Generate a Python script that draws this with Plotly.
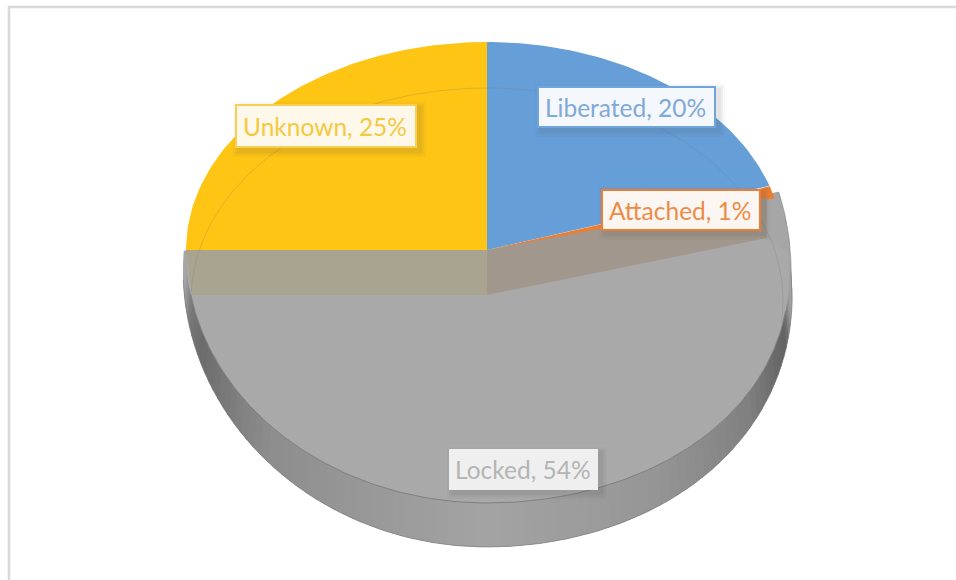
import numpy as np
import plotly.graph_objects as go

categories = ["Liberated", "Attached", "Locked", "Unknown"]
shares = [20, 1, 54, 25]
label_text = ["Liberated, 20%", "Attached, 1%", "Locked, 54%", "Unknown, 25%"]

fills = {"Liberated": "#669fd8", "Attached": "#ed7d31", "Locked": "#a9a9a9", "Unknown": "#fec515"}
text_cols = {"Liberated": "#7fa9d8", "Attached": "#ee8b47", "Locked": "#b4b4b4", "Unknown": "#f5c93f"}
edge_cols = {"Liberated": "#6fa5da", "Attached": "#ed7d31", "Locked": "#efefef", "Unknown": "#f8cf55"}
box_fill = {"Liberated": "#f4f7fb", "Attached": "#fbf6f2", "Locked": "#efefef", "Unknown": "#fdf8ea"}
boxes = {"Liberated": (538, 87, 715, 127), "Attached": (602, 190, 760, 230),
         "Locked": (450, 450, 597, 489), "Unknown": (236, 105, 416, 147)}

cum = np.cumsum([0] + shares) * 3.6
span = {c: (cum[i], cum[i + 1]) for i, c in enumerate(categories)}
CX, CY, RX_L, RX_R, RY_BACK, RY_FRONT = 487, 250, 301, 297, 208, 253
OCY, ORX, ORY = 270, 304, 277
BULGE = 14


def bulge(t):
    t = np.asarray(t, dtype=float) % 360
    return np.where((t > 90) & (t < 180), BULGE * np.sin(np.radians(2 * (t - 90))), 0.0)


def top(t):
    r = np.radians(np.asarray(t, dtype=float))
    ry = np.where(np.cos(r) > 0, RY_BACK, RY_FRONT)
    rx = np.where((np.sin(r) > 0) & (np.cos(r) > 0), RX_R, RX_L)
    return CX + rx * np.sin(r) + bulge(t), CY - ry * np.cos(r)


def outer(t):
    r = np.radians(np.asarray(t, dtype=float))
    return CX + ORX * np.sin(r) + bulge(t), OCY - ORY * np.cos(r)


fig = go.Figure()


def poly(x, y, fill, line=None, width=0.8, name=""):
    fig.add_trace(go.Scatter(x=list(x), y=list(y), mode="lines", fill="toself", fillcolor=fill,
                             line=dict(color=line or "rgba(0,0,0,0)", width=width if line else 0),
                             hoverinfo="skip", name=name, showlegend=False))


def curve(x, y, color, width=1):
    fig.add_trace(go.Scatter(x=list(x), y=list(y), mode="lines", line=dict(color=color, width=width),
                             hoverinfo="skip", showlegend=False))


# frame
curve([9, 9, 956], [580, 7, 7], "#d9d9d9", 2.5)

# base silhouette of the lower part
lock_a, lock_b = span["Locked"]
ta = np.linspace(lock_a - 2, lock_b + 4, 200)
ox, oy = outer(ta)
poly(np.r_[CX, ox], np.r_[CY, oy], "#a6a6a6", name="Locked")

# shaded wall of the disc
stops_t = [90, 100, 106, 112, 125, 150, 180, 225, 250, 258, 266, 274]
stops_g = [166, 160, 100, 105, 128, 150, 164, 142, 108, 120, 166, 166]
edges = np.linspace(90, 270, 91)
for a, b in zip(edges[:-1], edges[1:]):
    tt = np.linspace(a, b + 0.6, 4)
    ux, uy = top(tt)
    lx, ly = outer(tt)
    g = int(np.interp((a + b) / 2, stops_t, stops_g))
    poly(np.r_[ux, lx[::-1]], np.r_[uy, ly[::-1]], f"rgb({g},{g},{g})")

# back wedges
for c in ["Unknown", "Liberated", "Attached"]:
    a, b = span[c]
    tt = np.linspace(a, b, 80)
    x, y = top(tt)
    poly(np.r_[CX, x, CX], np.r_[CY, y, CY], fills[c], name=c)

# front face of the largest slice
tt = np.linspace(90, 270, 200)
x, y = top(tt)
poly(np.r_[CX, 767, x, 192], np.r_[295, 238, y, 295], fills["Locked"], name="Locked")
tt2 = np.linspace(104, 260, 200)
x, y = top(tt2)
curve(x, y, "#7f7f7f", 1)

# bands seen through the raised face
poly([186, CX, CX, 192], [CY, CY, 295, 295], "#a8a48f")
ax, ay = top(lock_a)
poly([CX, 767, 767, CX], [CY, ay + 0.1 * (767 - ax), 238, 295], "#a2978c")

# faint rear outline
tt3 = np.linspace(-88, 96, 200)
curve(487 + 296 * np.sin(np.radians(tt3)), 300 - 212 * np.cos(np.radians(tt3)), "rgba(110,110,110,0.22)", 1)
ox, oy = outer(np.linspace(lock_a - 2, 268, 200))
curve(ox, oy, "rgba(120,120,120,0.75)", 0.8)

shapes, notes = [], []
for c, t in zip(categories, label_text):
    x0, y0, x1, y1 = boxes[c]
    for grow, alpha in ((7, 0.04), (5, 0.05), (3, 0.06)):
        shapes.append(dict(type="rect", x0=x0 + 4 - grow, x1=x1 + 3 + grow, y0=y0 + 4 - grow, y1=y1 + 3 + grow,
                           xref="x", yref="y", fillcolor=f"rgba(70,70,70,{alpha})", line_width=0, layer="above"))
    shapes.append(dict(type="rect", x0=x0, x1=x1, y0=y0, y1=y1, xref="x", yref="y",
                       fillcolor=box_fill[c], line=dict(color=edge_cols[c], width=2), layer="above"))
    notes.append(dict(x=(x0 + x1) / 2 - 1, y=(y0 + y1) / 2, xref="x", yref="y", text=t, showarrow=False,
                      font=dict(family="Lato", size=24.5, color=text_cols[c])))

fig.update_layout(width=956, height=580, margin=dict(l=0, r=0, t=0, b=0), paper_bgcolor="white",
                  plot_bgcolor="white", showlegend=False, shapes=shapes, annotations=notes,
                  xaxis=dict(range=[0, 956], visible=False, fixedrange=True),
                  yaxis=dict(range=[580, 0], visible=False, fixedrange=True))
fig.write_html("out.html", config={"displayModeBar": False},
               post_script="document.body.style.margin='0';document.documentElement.style.overflow='hidden';")
